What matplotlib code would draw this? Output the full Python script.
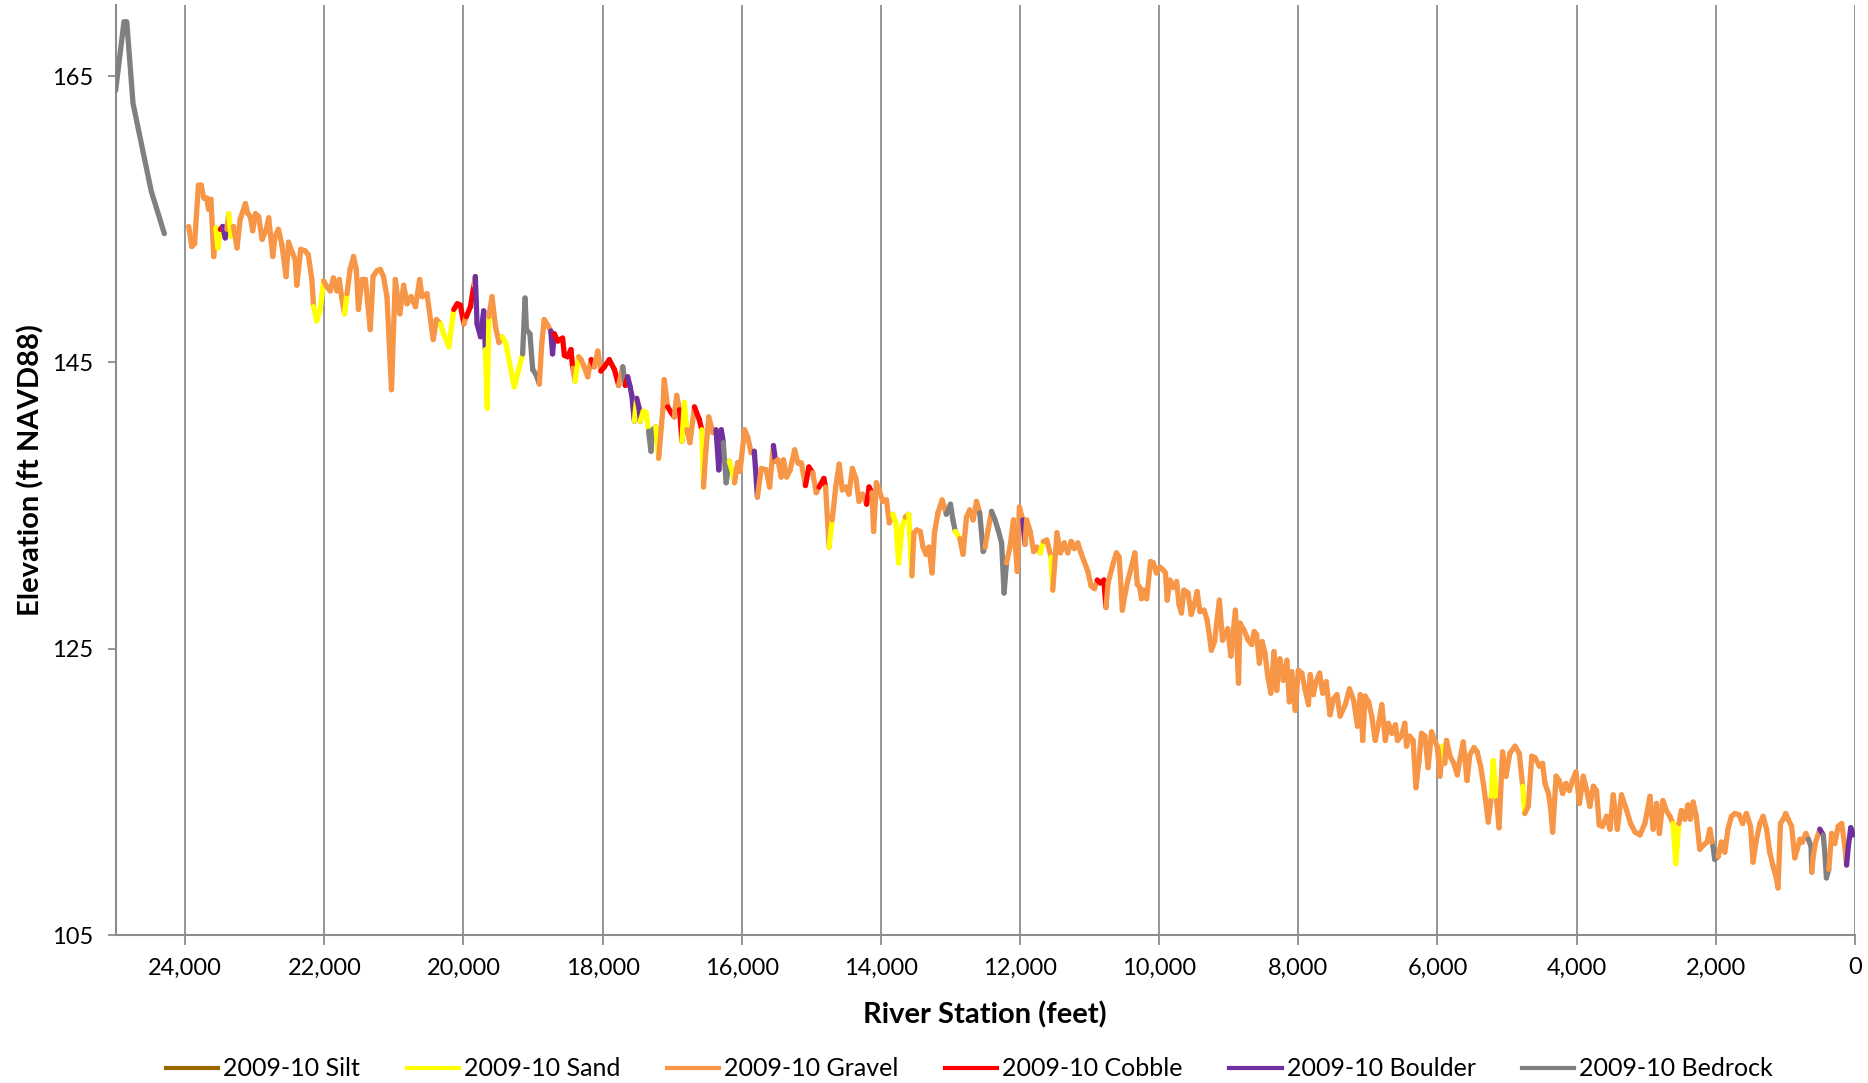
import numpy as np
import matplotlib.pyplot as plt
from matplotlib.collections import LineCollection
from matplotlib.lines import Line2D
from matplotlib.ticker import FuncFormatter

plt.rcParams['font.family'] = ['Lato', 'DejaVu Sans']

# upstream reach (bedrock)
up_station = [25000, 24880, 24840, 24750, 24490, 24300]
up_elev = [164.0, 168.8, 168.8, 163.1, 157.0, 154.0]

# main thalweg profile, 2009-10 survey
station = [
    23950, 23905, 23865, 23810, 23770, 23735, 23690, 23665, 23630, 23590,
    23560, 23530, 23495, 23460, 23425, 23400, 23375, 23340, 23305, 23255,
    23210, 23135, 23100, 23065, 23030, 22990, 22945, 22895, 22840, 22800,
    22740, 22710, 22660, 22610, 22550, 22515, 22470, 22420, 22395, 22340,
    22275, 22230, 22180, 22155, 22110, 22060, 22010, 21965, 21915, 21870,
    21820, 21785, 21750, 21710, 21675, 21630, 21580, 21540, 21510, 21460,
    21410, 21340, 21300, 21245, 21195, 21150, 21100, 21035, 20980, 20915,
    20860, 20810, 20755, 20690, 20630, 20595, 20525, 20435, 20390, 20330,
    20285, 20210, 20140, 20090, 20045, 19995, 19960, 19900, 19850, 19830,
    19805, 19755, 19710, 19685, 19660, 19635, 19590, 19540, 19490, 19445,
    19395, 19270, 19150, 19115, 19095, 19045, 19005, 18960, 18910, 18875,
    18840, 18790, 18745, 18720, 18695, 18645, 18575, 18550, 18505, 18455,
    18430, 18395, 18345, 18310, 18265, 18215, 18165, 18120, 18070, 18025,
    17975, 17905, 17830, 17770, 17710, 17675, 17640, 17605, 17580, 17545,
    17510, 17475, 17460, 17415, 17375, 17340, 17305, 17280, 17235, 17195,
    17135, 17115, 17065, 17015, 16970, 16935, 16895, 16860, 16825, 16790,
    16745, 16680, 16610, 16575, 16550, 16515, 16475, 16415, 16370, 16330,
    16295, 16265, 16225, 16180, 16130, 16105, 16060, 16025, 15960, 15915,
    15865, 15820, 15775, 15720, 15650, 15600, 15545, 15515, 15480, 15435,
    15400, 15355, 15305, 15240, 15195, 15145, 15085, 15035, 14980, 14930,
    14890, 14820, 14795, 14745, 14700, 14650, 14600, 14555, 14505, 14460,
    14410, 14360, 14315, 14265, 14205, 14170, 14130, 14105, 14065, 14025,
    13975, 13920, 13880, 13830, 13785, 13745, 13695, 13650, 13600, 13555,
    13525, 13485, 13435, 13395, 13350, 13310, 13265, 13230, 13180, 13120,
    13060, 13000, 12965, 12930, 12865, 12820, 12770, 12725, 12675, 12625,
    12580, 12530, 12505, 12460, 12410, 12360, 12315, 12265, 12230, 12195,
    12145, 12095, 12040, 12010, 11960, 11930, 11905, 11855, 11805, 11760,
    11710, 11665, 11615, 11555, 11530, 11470, 11420, 11365, 11315, 11265,
    11220, 11170, 11125, 11025, 10980, 10930, 10890, 10845, 10795, 10765,
    10735, 10660, 10615, 10575, 10530, 10480, 10445, 10400, 10350, 10315,
    10280, 10255, 10220, 10180, 10125, 10085, 10040, 9990, 9940, 9910,
    9885, 9845, 9800, 9750, 9715, 9680, 9645, 9585, 9540, 9490,
    9455, 9415, 9355, 9310, 9250, 9205, 9135, 9090, 9015, 8970,
    8905, 8860, 8840, 8780, 8720, 8670, 8635, 8600, 8560, 8520,
    8480, 8440, 8395, 8350, 8310, 8265, 8215, 8165, 8130, 8095,
    8045, 8000, 7950, 7905, 7855, 7830, 7785, 7745, 7695, 7650,
    7600, 7545, 7495, 7445, 7400, 7325, 7265, 7205, 7150, 7110,
    7075, 7040, 6990, 6945, 6895, 6845, 6800, 6750, 6705, 6655,
    6605, 6575, 6520, 6470, 6445, 6400, 6350, 6310, 6265, 6230,
    6180, 6135, 6085, 6040, 6005, 5965, 5920, 5895, 5870, 5820,
    5765, 5715, 5680, 5630, 5575, 5535, 5475, 5430, 5380, 5335,
    5270, 5225, 5200, 5150, 5115, 5065, 5015, 4960, 4885, 4825,
    4775, 4745, 4695, 4645, 4600, 4535, 4490, 4455, 4405, 4375,
    4345, 4295, 4250, 4200, 4155, 4105, 4060, 4010, 3960, 3905,
    3855, 3810, 3760, 3715, 3675, 3630, 3570, 3520, 3475, 3415,
    3355, 3280, 3225, 3160, 3090, 3020, 2945, 2900, 2850, 2810,
    2760, 2710, 2660, 2615, 2575, 2530, 2495, 2445, 2400, 2365,
    2325, 2280, 2230, 2175, 2125, 2085, 2040, 2015, 1965, 1920,
    1870, 1825, 1775, 1725, 1665, 1615, 1560, 1500, 1465, 1415,
    1365, 1320, 1270, 1225, 1175, 1125, 1105, 1070, 1030, 995,
    960, 910, 865, 830, 790, 755, 705, 670, 630, 620,
    600, 565, 505, 455, 430, 410, 375, 335, 290, 240,
    190, 145, 120, 95, 60, 25,
]

elev = [
    154.5, 153.1, 153.3, 157.4, 157.4, 156.5, 156.5, 155.7, 156.4, 152.4,
    154.4, 153.0, 154.3, 154.5, 153.7, 154.3, 155.4, 153.8, 154.5, 153.0,
    155.0, 156.1, 155.4, 155.2, 154.2, 155.4, 155.2, 153.6, 154.2, 155.1,
    152.4, 153.8, 154.3, 153.2, 151.0, 153.4, 152.8, 152.2, 150.4, 152.9,
    152.8, 152.5, 150.8, 148.9, 147.9, 148.7, 150.7, 150.3, 150.0, 150.9,
    150.0, 150.8, 149.5, 148.4, 149.8, 151.5, 152.4, 151.5, 148.7, 150.8,
    150.8, 147.3, 151.0, 151.4, 151.5, 151.0, 149.6, 143.1, 150.8, 148.4,
    150.4, 149.1, 149.6, 148.9, 150.8, 149.6, 149.8, 146.6, 148.0, 147.7,
    147.0, 146.1, 148.7, 149.1, 149.0, 147.7, 148.2, 148.9, 150.4, 151.0,
    147.7, 146.8, 148.6, 145.9, 141.8, 148.2, 149.6, 147.5, 146.4, 146.8,
    146.4, 143.3, 145.6, 149.5, 147.3, 147.0, 144.5, 144.2, 143.5, 146.3,
    148.0, 147.6, 147.2, 145.6, 147.0, 146.5, 146.7, 145.5, 145.4, 145.9,
    144.6, 143.7, 145.4, 145.2, 144.7, 144.0, 145.2, 144.7, 145.8, 144.4,
    144.7, 145.2, 144.5, 143.4, 144.7, 143.4, 144.0, 143.3, 142.7, 140.9,
    142.5, 141.8, 140.9, 141.6, 141.5, 140.2, 138.8, 140.3, 140.5, 138.3,
    141.7, 143.8, 141.9, 141.5, 141.2, 142.7, 141.7, 139.5, 142.2, 140.3,
    139.4, 141.9, 141.0, 140.3, 136.3, 138.9, 141.2, 140.1, 140.3, 137.5,
    140.3, 139.4, 136.6, 138.1, 137.3, 136.6, 138.0, 137.4, 140.3, 139.8,
    138.7, 138.8, 135.6, 137.6, 137.5, 136.3, 139.2, 138.1, 138.2, 137.0,
    138.2, 137.0, 137.5, 138.9, 138.0, 138.0, 136.4, 137.7, 137.3, 135.9,
    136.3, 136.9, 136.3, 132.1, 134.0, 136.3, 137.9, 136.1, 136.3, 135.8,
    137.6, 136.9, 135.3, 135.8, 135.1, 136.3, 135.9, 133.2, 136.6, 136.1,
    135.3, 135.4, 133.8, 134.4, 133.8, 131.0, 133.5, 134.2, 134.4, 130.1,
    133.1, 133.3, 133.2, 132.1, 131.6, 132.1, 130.3, 133.1, 134.5, 135.4,
    134.4, 135.1, 134.0, 133.2, 132.7, 131.6, 134.2, 134.7, 134.0, 135.3,
    134.5, 131.8, 132.1, 133.3, 134.6, 134.0, 133.3, 132.4, 128.9, 131.0,
    132.1, 134.0, 130.4, 134.9, 134.0, 132.3, 134.0, 133.2, 131.8, 132.1,
    131.7, 132.5, 132.6, 131.4, 129.1, 133.1, 131.7, 132.4, 131.7, 132.5,
    132.0, 132.4, 131.7, 130.4, 129.4, 129.2, 129.8, 129.6, 129.8, 127.9,
    129.6, 131.0, 131.7, 131.4, 127.7, 129.1, 129.9, 130.7, 131.7, 129.5,
    129.3, 128.5, 129.1, 128.5, 131.1, 131.0, 130.3, 130.7, 130.5, 130.3,
    128.4, 129.8, 129.3, 129.7, 128.1, 127.5, 129.1, 128.9, 127.4, 128.2,
    129.0, 127.6, 127.7, 127.0, 124.9, 125.5, 128.4, 125.6, 126.4, 124.5,
    127.7, 122.6, 126.8, 126.3, 125.6, 125.3, 126.2, 126.0, 124.0, 125.5,
    124.7, 123.1, 121.9, 124.8, 122.1, 124.3, 122.8, 124.2, 121.3, 123.4,
    120.7, 123.5, 123.3, 122.2, 121.1, 123.2, 121.8, 122.7, 123.3, 121.9,
    122.7, 120.4, 121.5, 121.8, 120.3, 121.1, 122.2, 121.4, 119.6, 121.8,
    118.6, 121.7, 121.3, 120.3, 118.6, 119.8, 121.1, 118.6, 119.8, 119.1,
    119.7, 118.6, 118.9, 119.8, 118.2, 118.9, 118.6, 115.3, 117.2, 119.1,
    118.9, 116.7, 119.2, 118.6, 118.2, 116.1, 118.2, 117.0, 118.6, 117.5,
    117.0, 116.2, 117.2, 118.5, 115.8, 117.6, 118.1, 117.8, 116.8, 115.4,
    112.9, 114.7, 117.2, 114.4, 112.5, 117.8, 116.1, 117.7, 118.2, 117.7,
    115.4, 113.5, 114.0, 117.5, 117.4, 116.8, 117.0, 115.6, 114.9, 113.9,
    112.2, 116.1, 115.8, 114.9, 115.6, 115.1, 115.8, 116.4, 114.2, 116.1,
    115.1, 114.0, 115.4, 115.1, 112.7, 112.6, 113.3, 112.4, 114.8, 112.4,
    114.8, 113.7, 112.8, 112.2, 112.0, 112.8, 114.7, 112.4, 114.2, 112.1,
    114.4, 113.7, 113.3, 112.8, 110.0, 112.8, 113.7, 113.1, 114.1, 113.1,
    114.3, 113.3, 111.0, 111.3, 111.5, 112.4, 111.2, 110.3, 110.5, 111.5,
    110.8, 112.4, 113.3, 113.5, 113.4, 112.8, 113.5, 112.6, 110.1, 111.7,
    112.8, 113.3, 112.4, 110.8, 109.8, 108.9, 108.3, 112.8, 113.1, 113.5,
    113.1, 112.6, 110.4, 111.0, 111.7, 111.5, 112.1, 111.7, 111.2, 109.4,
    110.5, 111.5, 112.4, 112.0, 110.6, 109.0, 109.6, 112.1, 111.4, 112.6,
    112.8, 111.2, 109.9, 111.2, 112.5, 112.0,
]

# bed material at each point: G gravel, S sand, C cobble, B boulder, R bedrock
material = (
    'GGGGGGGGGG' 'GSSCBBGSSG' 'GGGGGGGGGG' 'GGGGGGGGGG' 'GGGGSSSGGG'
    'GGGGSGGGGG' 'GGGGGGGGGG' 'GGGGGGGGGG' 'SSSCCCGCCG' 'BBBBSSGGGG'
    'SSSRRRRRRG' 'GGGBBCCCCC' 'CGSGGGGCGG' 'CCCCGRCBBB' 'SBBSSSRRRS'
    'GGGCCGGCSS' 'GGCCSGGGGB' 'BBRRSSGGGG' 'GGBGGGGBGG' 'GGGGGGGCCG'
    'GCCGSGGGGG' 'GGGGGCCGGG' 'GGGGSSSSGS' 'GGGGGGGGGG' 'GRRRSGGGGG'
    'GRRGGRRRRR' 'GGGGGBGGGG' 'GSGGSGGGGG' 'GGGGGGGCCC'
    + 'G' * 100 +
    'GGGGGGGSGG' 'GGGGGGGGGG' 'GGSSGGGGGG' 'GSGGGGGGGG' 'GGGGGGGGGG'
    'GGGGGGGGGG' 'GGGGGGGGGG' 'GGGGSSGGGG' 'GGGGGGGRRG' 'GGGGGGGGGG'
    'GGGGGGGGGG' 'GGGGGGGGRR' 'GGGBRRRGGG' 'GGGBBB'
)

series_names = ['2009-10 Silt', '2009-10 Sand', '2009-10 Gravel',
                '2009-10 Cobble', '2009-10 Boulder', '2009-10 Bedrock']
series_codes = ['T', 'S', 'G', 'C', 'B', 'R']
series_colors = ['#996600', '#FFFF00', '#F79646', '#FF0000', '#7030A0', '#808080']
color_of = dict(zip(series_codes, series_colors))

assert len(station) == len(elev) == len(material)

fig = plt.figure(figsize=(18.68, 10.83), dpi=100)
ax = fig.add_axes([0.0619, 0.1365, 0.9311, 0.8593])

lw = 3.8
pts = np.column_stack([station, elev])
segs = np.stack([pts[:-1], pts[1:]], axis=1)
seg_colors = [color_of[m] for m in material[1:]]
lc = LineCollection(segs, colors=seg_colors, linewidths=lw,
                    capstyle='round', joinstyle='round', zorder=3)
ax.add_collection(lc)
ax.plot(up_station, up_elev, color=color_of['R'], lw=lw,
        solid_capstyle='round', solid_joinstyle='round', zorder=3)

ax.set_xlim(25000, 0)
ax.set_ylim(105, 170)
ax.set_xticks(np.arange(0, 24001, 2000))
ax.set_yticks([105, 125, 145, 165])
ax.xaxis.set_major_formatter(FuncFormatter(lambda v, p: f'{v:,.0f}'))

ax.grid(axis='x', color='#8C8C8C', lw=1.3, zorder=1)
for s in ['top', 'right']:
    ax.spines[s].set_visible(False)
for s in ['left', 'bottom']:
    ax.spines[s].set_color('#8C8C8C')
    ax.spines[s].set_linewidth(1.5)
ax.tick_params(axis='x', length=7, width=1.3, color='#8C8C8C', pad=9, labelsize=17)
ax.tick_params(axis='y', length=6, width=1.3, color='#8C8C8C', pad=10, labelsize=17)

ax.set_xlabel('River Station (feet)', fontsize=21, fontweight='bold')
ax.xaxis.set_label_coords(0.5, -0.071)
ax.set_ylabel('Elevation (ft NAVD88)', fontsize=21, fontweight='bold')
ax.yaxis.set_label_coords(-0.041, 0.5)

handles = [Line2D([], [], color=c, lw=3) for c in series_colors]
fig.legend(handles, series_names, loc='center', bbox_to_anchor=(0.519, 0.013),
           ncol=6, frameon=False, fontsize=18, handlelength=2.1,
           handletextpad=0.2, columnspacing=1.85)

fig.savefig('out.png', dpi=100)
